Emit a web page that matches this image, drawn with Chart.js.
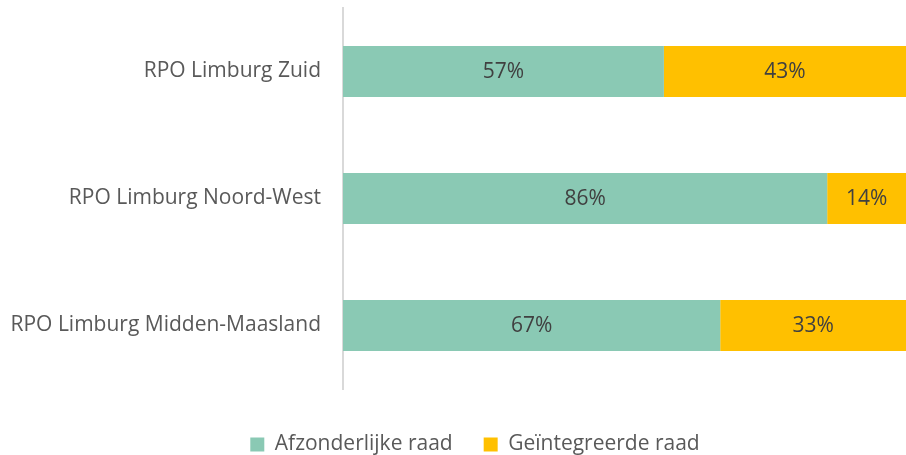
<!DOCTYPE html>
<html>
<head>
<meta charset="utf-8">
<script src="https://cdn.jsdelivr.net/npm/chart.js@4/dist/chart.umd.min.js"></script>
<style>
  html, body { margin: 0; padding: 0; background: #fff; }
  #wrap { width: 906px; height: 455px; position: relative; }
</style>
</head>
<body>
<div id="wrap"><canvas id="chart"></canvas></div>
<script>
// --- DADES ---
const regions = ["RPO Limburg Zuid", "RPO Limburg Noord-West", "RPO Limburg Midden-Maasland"];
const separateCouncil = [57, 86, 67];
const integratedCouncil = [43, 14, 33];
const seriesNames = ["Afzonderlijke raad", "Geïntegreerde raad"];

const FONT = "'Open Sans', 'Noto Sans', sans-serif";
const FONT_SIZE = 21;

// Etiquetes de valor al centre de cada segment
const valueLabels = {
  id: "valueLabels",
  afterDatasetsDraw(chart) {
    const ctx = chart.ctx;
    ctx.save();
    ctx.font = FONT_SIZE + "px " + FONT;
    ctx.fillStyle = "#404040";
    ctx.textAlign = "center";
    ctx.textBaseline = "middle";
    chart.data.datasets.forEach((ds, i) => {
      chart.getDatasetMeta(i).data.forEach((bar, j) => {
        const x = (bar.base + bar.x) / 2;
        ctx.fillText(ds.data[j] + "%", x, bar.y + 1);
      });
    });
    ctx.restore();
  },
};

// Llegenda desplaçada (dreta i avall), com a l'original
const shiftLegend = {
  id: "shiftLegend",
  afterLayout(chart) {
    const lg = chart.legend;
    if (!lg) return;
    lg.left += 18;
    lg.right += 18;
    lg.top += 14;
    lg.bottom += 14;
  },
};

new Chart(document.getElementById("chart"), {
  type: "bar",
  data: {
    labels: regions,
    datasets: [
      {
        label: seriesNames[0],
        data: separateCouncil,
        backgroundColor: "#8AC9B4",
      },
      {
        label: seriesNames[1],
        data: integratedCouncil,
        backgroundColor: "#FFC000",
      },
    ],
  },
  options: {
    indexAxis: "y",
    responsive: true,
    maintainAspectRatio: false,
    animation: false,
    barPercentage: 0.4,
    categoryPercentage: 1,
    layout: { padding: { top: 8, right: -8, bottom: 4, left: 0 } },
    scales: {
      x: {
        stacked: true,
        min: 0,
        max: 100,
        display: false,
      },
      y: {
        stacked: true,
        grid: { display: false, drawTicks: false },
        border: { color: "#D9D9D9", width: 2 },
        ticks: {
          color: "#595959",
          font: { family: FONT, size: FONT_SIZE },
          padding: 22,
        },
        afterFit(axis) {
          axis.width = 343;
          axis.paddingTop = 0;
          axis.paddingBottom = 0;
        },
      },
    },
    plugins: {
      legend: {
        position: "bottom",
        labels: {
          color: "#595959",
          font: { family: FONT, size: FONT_SIZE },
          boxWidth: 14,
          boxHeight: 14,
          padding: 31,
        },
      },
      tooltip: { enabled: false },
    },
  },
  plugins: [valueLabels, shiftLegend],
});
</script>
</body>
</html>
